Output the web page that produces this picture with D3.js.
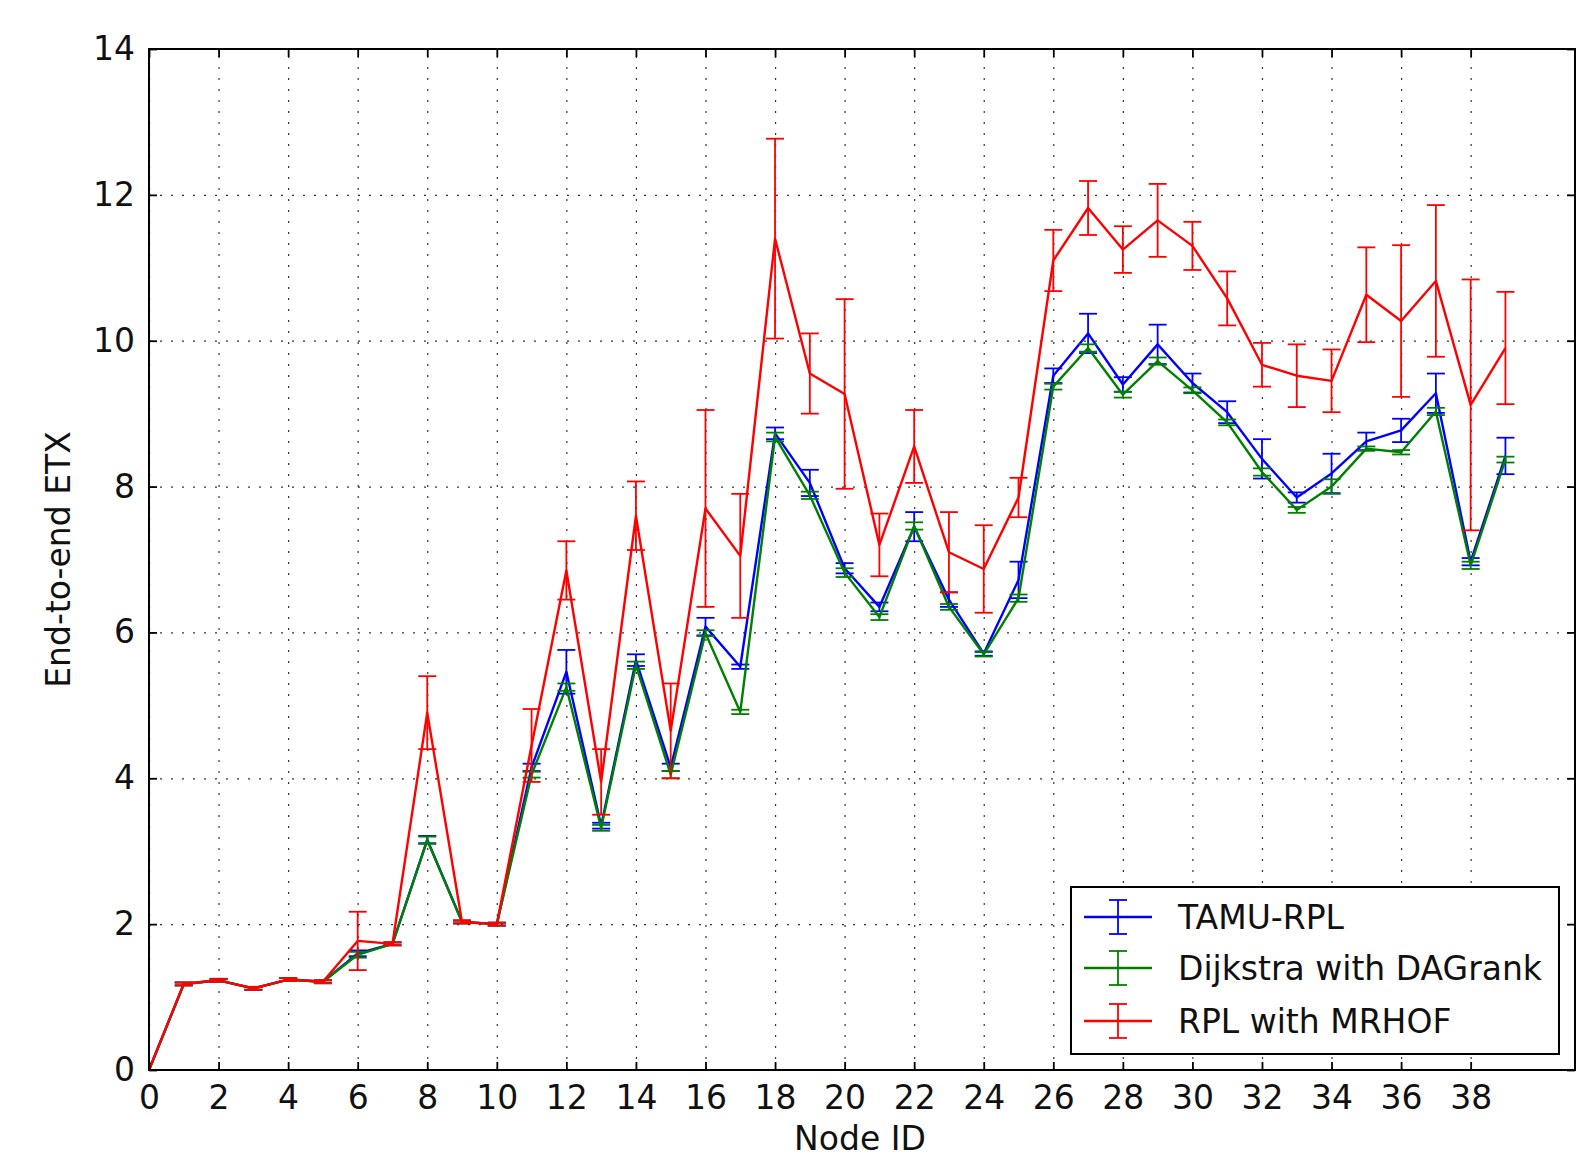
<!DOCTYPE html>
<html>
<head>
<meta charset="utf-8">
<title>End-to-end ETX</title>
<script src="https://cdn.jsdelivr.net/npm/d3@7"></script>
<style>
  body { margin: 0; background: #fff; }
  text { font-family: "DejaVu Sans", sans-serif; }
  .grid line { stroke: #333; stroke-width: 1.2; stroke-dasharray: 2,9; }
  .grid path { display: none; }
</style>
</head>
<body>
<div id="chart"></div>
<script>

// node ids 0..39
var nodes = d3.range(0, 40);

var tamuMean = [0, 1.18, 1.23, 1.12, 1.24, 1.21, 1.6, 1.73, 3.16, 2.03,
                2.0, 4.15, 5.46, 3.35, 5.62, 4.15, 6.08, 5.53, 8.73, 8.05,
                6.88, 6.35, 7.45, 6.45, 5.71, 6.72, 9.52, 10.1, 9.4, 9.95,
                9.42, 9.02, 8.38, 7.85, 8.18, 8.62, 8.77, 9.28, 6.97, 8.42];
var tamuErr = [0, 0.02, 0.02, 0.02, 0.02, 0.02, 0.04, 0.02, 0.05, 0.02,
               0.02, 0.05, 0.3, 0.04, 0.08, 0.05, 0.12, 0.03, 0.08, 0.18,
               0.07, 0.06, 0.2, 0.1, 0.03, 0.25, 0.1, 0.27, 0.1, 0.27,
               0.13, 0.15, 0.27, 0.07, 0.27, 0.12, 0.16, 0.27, 0.05, 0.25];

var dijkMean = [0, 1.18, 1.23, 1.12, 1.24, 1.21, 1.58, 1.73, 3.15, 2.03,
                2.0, 4.05, 5.25, 3.32, 5.55, 4.05, 5.99, 4.91, 8.68, 7.88,
                6.82, 6.21, 7.46, 6.35, 5.7, 6.47, 9.37, 9.9, 9.26, 9.72,
                9.32, 8.88, 8.2, 7.68, 8.0, 8.52, 8.47, 9.03, 6.92, 8.37];
var dijkErr = [0, 0.02, 0.02, 0.02, 0.02, 0.02, 0.04, 0.02, 0.05, 0.02,
               0.02, 0.04, 0.05, 0.04, 0.05, 0.05, 0.04, 0.03, 0.06, 0.05,
               0.06, 0.04, 0.05, 0.04, 0.03, 0.05, 0.04, 0.05, 0.04, 0.05,
               0.04, 0.04, 0.05, 0.04, 0.1, 0.03, 0.03, 0.05, 0.05, 0.04];

var mrhofMean = [0, 1.18, 1.23, 1.12, 1.24, 1.21, 1.77, 1.73, 4.9, 2.03,
                 2.0, 4.45, 6.85, 3.95, 7.6, 4.65, 7.7, 7.05, 11.4, 9.55,
                 9.27, 7.2, 8.55, 7.1, 6.87, 7.85, 11.1, 11.82, 11.25, 11.65,
                 11.3, 10.58, 9.67, 9.52, 9.45, 10.63, 10.27, 10.82, 9.12, 9.9];
var mrhofErr = [0, 0.02, 0.02, 0.02, 0.02, 0.02, 0.4, 0.02, 0.5, 0.02,
                0.02, 0.5, 0.4, 0.45, 0.47, 0.65, 1.35, 0.85, 1.37, 0.55,
                1.3, 0.43, 0.5, 0.55, 0.6, 0.27, 0.42, 0.37, 0.32, 0.5,
                0.33, 0.37, 0.3, 0.43, 0.43, 0.65, 1.04, 1.04, 1.72, 0.77];

var seriesNames = ["TAMU-RPL", "Dijkstra with DAGrank", "RPL with MRHOF"];
var seriesColors = ["#0000ff", "#008000", "#ff0000"];

var xTicks = d3.range(0, 40, 2);
var yTicks = [0, 2, 4, 6, 8, 10, 12, 14];

var width = 1576, height = 1160;
var plotLeft = 149, plotRight = 1575, plotTop = 49, plotBottom = 1070;

var svg = d3.select("#chart").append("svg")
    .attr("width", width)
    .attr("height", height);

var x = d3.scaleLinear().domain([0, 41]).range([plotLeft, plotRight]);
var y = d3.scaleLinear().domain([0, 14]).range([plotBottom, plotTop]);

// dotted grid
svg.append("g")
    .attr("class", "grid")
    .attr("transform", "translate(0," + plotBottom + ")")
    .call(d3.axisBottom(x).tickValues(xTicks).tickSize(-(plotBottom - plotTop)).tickFormat(""));
svg.append("g")
    .attr("class", "grid")
    .attr("transform", "translate(" + plotLeft + ",0)")
    .call(d3.axisLeft(y).tickValues(yTicks).tickSize(-(plotRight - plotLeft)).tickFormat(""));

var series = [
  {mean: tamuMean, err: tamuErr},
  {mean: dijkMean, err: dijkErr},
  {mean: mrhofMean, err: mrhofErr}
];

var line = d3.line()
    .x(function(d) { return x(d[0]); })
    .y(function(d) { return y(d[1]); });

var plot = svg.append("g");
var cap = 9;

series.forEach(function(s, k) {
  var pts = nodes.map(function(n, i) { return [n, s.mean[i], s.err[i]]; });
  var g = plot.append("g")
      .attr("stroke", seriesColors[k])
      .attr("fill", "none");

  g.append("path")
      .datum(pts)
      .attr("stroke-width", 2.4)
      .attr("stroke-linejoin", "round")
      .attr("d", line);

  var eb = g.selectAll("g.eb")
      .data(pts.filter(function(d) { return d[0] > 0; }))
      .enter().append("g")
      .attr("class", "eb")
      .attr("stroke-width", 1.8);
  eb.append("line")
      .attr("x1", function(d) { return x(d[0]); })
      .attr("x2", function(d) { return x(d[0]); })
      .attr("y1", function(d) { return y(d[1] - d[2]); })
      .attr("y2", function(d) { return y(d[1] + d[2]); });
  eb.append("line")
      .attr("x1", function(d) { return x(d[0]) - cap; })
      .attr("x2", function(d) { return x(d[0]) + cap; })
      .attr("y1", function(d) { return y(d[1] + d[2]); })
      .attr("y2", function(d) { return y(d[1] + d[2]); });
  eb.append("line")
      .attr("x1", function(d) { return x(d[0]) - cap; })
      .attr("x2", function(d) { return x(d[0]) + cap; })
      .attr("y1", function(d) { return y(d[1] - d[2]); })
      .attr("y2", function(d) { return y(d[1] - d[2]); });
});

// axes with inward ticks on all sides
function styleAxis(g) {
  g.select(".domain").remove();
  g.selectAll(".tick line").attr("stroke", "#000").attr("stroke-width", 1.8);
  g.selectAll(".tick text").attr("fill", "#111").style("font-size", "33px")
      .style("font-family", "DejaVu Sans, sans-serif");
}

svg.append("g")
    .attr("transform", "translate(0," + plotBottom + ")")
    .call(d3.axisBottom(x).tickValues(xTicks).tickSizeInner(-8).tickSizeOuter(0).tickPadding(16))
    .call(styleAxis);
svg.append("g")
    .attr("transform", "translate(0," + plotTop + ")")
    .call(d3.axisTop(x).tickValues(xTicks).tickSizeInner(-8).tickSizeOuter(0).tickFormat(""))
    .call(styleAxis);
svg.append("g")
    .attr("transform", "translate(" + plotLeft + ",0)")
    .call(d3.axisLeft(y).tickValues(yTicks).tickSizeInner(-8).tickSizeOuter(0).tickPadding(14))
    .call(styleAxis);
svg.append("g")
    .attr("transform", "translate(" + plotRight + ",0)")
    .call(d3.axisRight(y).tickValues(yTicks).tickSizeInner(-8).tickSizeOuter(0).tickFormat(""))
    .call(styleAxis);

svg.append("rect")
    .attr("x", plotLeft).attr("y", plotTop)
    .attr("width", plotRight - plotLeft).attr("height", plotBottom - plotTop)
    .attr("fill", "none")
    .attr("stroke", "#000")
    .attr("stroke-width", 2);

// axis labels
svg.append("text")
    .attr("x", 860)
    .attr("y", 1150)
    .attr("text-anchor", "middle")
    .attr("fill", "#111")
    .style("font-size", "33px")
    .text("Node ID");

svg.append("text")
    .attr("transform", "translate(70," + (plotTop + plotBottom) / 2 + ") rotate(-90)")
    .attr("text-anchor", "middle")
    .attr("fill", "#111")
    .style("font-size", "33px")
    .text("End-to-end ETX");

// legend
var legend = svg.append("g");
legend.append("rect")
    .attr("x", 1071).attr("y", 887)
    .attr("width", 488).attr("height", 167)
    .attr("fill", "#fff")
    .attr("stroke", "#000")
    .attr("stroke-width", 2);

var legY = [917, 968, 1021];
seriesNames.forEach(function(name, k) {
  var g = legend.append("g").attr("stroke", seriesColors[k]).attr("stroke-width", 1.8);
  g.append("line").attr("x1", 1084).attr("x2", 1152).attr("y1", legY[k]).attr("y2", legY[k]).attr("stroke-width", 2.4);
  g.append("line").attr("x1", 1118).attr("x2", 1118).attr("y1", legY[k] - 17).attr("y2", legY[k] + 17);
  g.append("line").attr("x1", 1109).attr("x2", 1127).attr("y1", legY[k] - 17).attr("y2", legY[k] - 17);
  g.append("line").attr("x1", 1109).attr("x2", 1127).attr("y1", legY[k] + 17).attr("y2", legY[k] + 17);
  legend.append("text")
      .attr("x", 1178)
      .attr("y", legY[k])
      .attr("dy", "0.35em")
      .attr("fill", "#111")
      .style("font-size", "33px")
      .text(name);
});

</script>
</body>
</html>
